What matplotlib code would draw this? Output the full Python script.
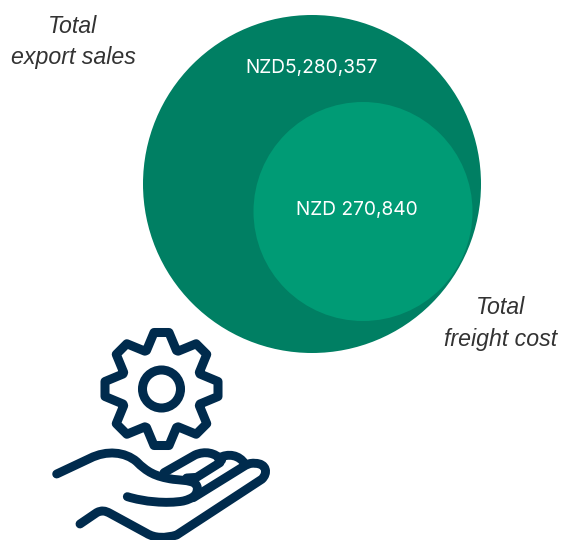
#!/usr/bin/env python3
# Total export sales vs total freight cost, nested circles with gear/hand icon
import numpy as np
import matplotlib.pyplot as plt
from matplotlib.patches import Circle, PathPatch, Polygon
from matplotlib.path import Path

#%% Data
circle_labels = ["NZD5,280,357", "NZD 270,840"]
caption_labels = ["Total\nexport sales", "Total\nfreight cost"]

NAVY = "#002b4d"
M, L, C = Path.MOVETO, Path.LINETO, Path.CURVE4

#%% Figure, axes run in reference pixels
fig = plt.figure(figsize=(5.62, 5.40), dpi=100)
ax = fig.add_axes([0, 0, 1, 1])
ax.set_xlim(0, 562)
ax.set_ylim(540, 0)
ax.axis("off")

#%% Circles
ax.add_patch(Circle((312, 184), 169, fc="#007f63", ec="none"))
ax.add_patch(Circle((363, 211.5), 109.5, fc="#009b75", ec="none"))

ax.text(312, 68.5, circle_labels[0], color="white", fontsize=13.8, family="Inter",
        ha="center", va="center")
ax.text(357, 210.5, circle_labels[1], color="white", fontsize=13.8, family="Inter",
        ha="center", va="center")
ax.text(73, 42, caption_labels[0], color="#333333", fontsize=16.7, family="Liberation Sans",
        style="italic", ha="center", va="center", linespacing=1.46)
ax.text(500.5, 323.5, caption_labels[1], color="#333333", fontsize=16.7, family="Liberation Sans",
        style="italic", ha="center", va="center", linespacing=1.46)

#%% Gear icon
gear_x, gear_y = 161.5, 389
lw = 6.5
pts = []
for a in np.arange(8) * np.pi / 4:
    for r, off in [(38.5, -15), (56.5, -7.5), (56.5, 7.5), (38.5, 15)]:
        # tooth corners, radial r along the tooth and off across it
        pts.append((gear_x + r * np.sin(a) + off * np.cos(a),
                    gear_y - r * np.cos(a) + off * np.sin(a)))
ax.add_patch(Polygon(pts, closed=True, fc="none", ec=NAVY, lw=lw, joinstyle="round"))
ax.add_patch(Circle((gear_x, gear_y), 19, fc="none", ec=NAVY, lw=lw))

#%% Hand icon, traced in crop coordinates (3x, origin at 40,320)
def hand_stroke(verts, codes):
    v = np.array(verts, dtype=float) / 3 + [40, 320]
    ax.add_patch(PathPatch(Path(v, codes), fc="none", ec=NAVY, lw=6.4,
                           capstyle="round", joinstyle="round"))

# thumb edge and palm
hand_stroke([(50, 462), (150, 415), (200, 390), (255, 395), (290, 425),
             (320, 455), (345, 470), (400, 478), (440, 482), (472, 482), (472, 505),
             (472, 525), (460, 535), (430, 543), (380, 552), (310, 545), (262, 530)],
            [M, L, C, C, C, C, C, C, C, C, C, C, C, C, C, C, C])
# lower edge, wrist to outer finger tip and back along the slit
hand_stroke([(120, 612), (170, 578), (185, 570), (195, 572), (210, 580),
             (320, 640), (345, 655), (375, 655), (410, 645), (665, 478),
             (685, 460), (680, 430), (645, 430), (630, 428), (620, 434), (610, 440),
             (460, 533)],
            [M, L, C, C, C, L, C, C, C, L, C, C, C, C, C, C, L])
# first finger top
hand_stroke([(372, 458), (465, 405), (495, 392), (525, 398), (545, 420)],
            [M, L, C, C, C])
# stroke between the two slits
hand_stroke([(440, 474), (470, 472), (540, 428)], [M, L, L])
# second finger top
hand_stroke([(535, 415), (565, 398), (598, 405), (615, 432)], [M, C, C, C])

fig.savefig("out.png", dpi=100)
